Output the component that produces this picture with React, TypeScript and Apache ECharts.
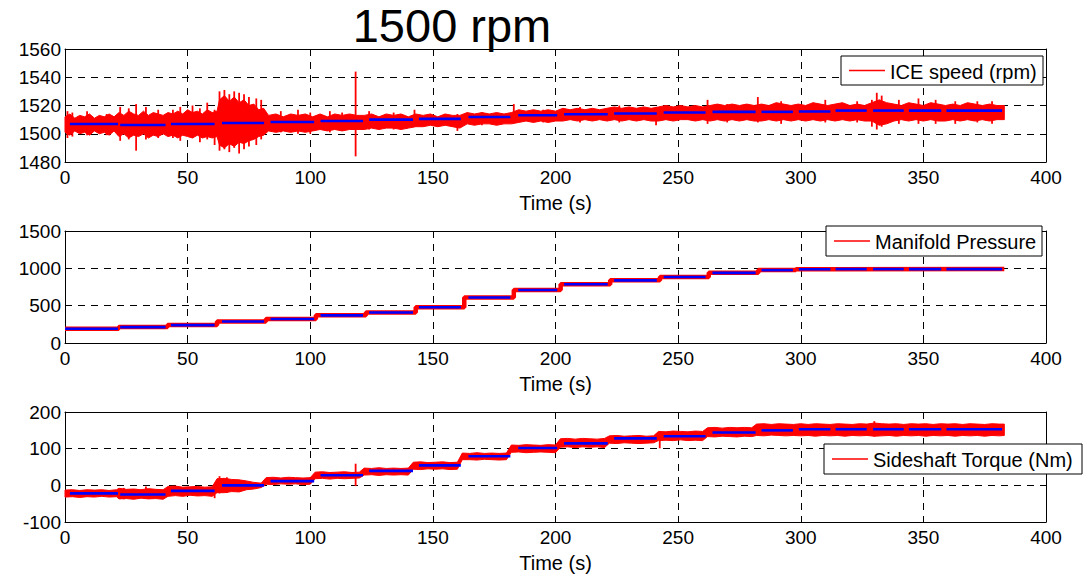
import React, { useEffect, useRef } from "react";
import * as echarts from "echarts";

// ---------- data ----------
const titleText = "1500 rpm";
const xLabel = "Time (s)";
const legendNames = ["ICE speed (rpm)", "Manifold Pressure", "Sideshaft Torque (Nm)"];

// setpoint step segments (s)
const stepStarts = [2, 22.5, 43.2, 64, 83.8, 104.2, 124, 144.3, 164.5, 184.8, 203.5, 223.9, 244.1, 264, 284, 299.2, 314.2, 329.5, 344.1, 359.4];
const stepEnds = [21.6, 41, 61, 81.2, 101.6, 121.5, 141.9, 161.4, 181.6, 200.7, 221.3, 241.3, 261.2, 281.6, 296.8, 312.1, 326.9, 342, 357.3, 382.1];
const speedSet = [1506.9, 1506.2, 1506.9, 1507.6, 1508.3, 1509, 1510, 1510.5, 1511.9, 1513.1, 1513.8, 1514.3, 1515, 1515.5, 1515.5, 1515.8, 1516.4, 1516.4, 1516.4, 1516.4];
const pressureSet = [191, 213, 239, 287, 322, 370, 409, 478, 609, 709, 787, 839, 883, 939, 976, 987, 990, 990, 990, 990];
const torqueSet = [-22, -25, -15, 0, 11.5, 27.5, 39.5, 54.5, 79.5, 102, 114.5, 128, 134, 144, 150, 153, 153, 153, 153, 153];

// measured ICE speed: core envelope [t, low, high]
const speedBand: number[][] = [
  [0, 1501, 1512], [2, 1499, 1514], [4, 1502, 1511], [6, 1500, 1513], [8, 1501, 1512], [10, 1499, 1514], [12, 1502, 1511], [14, 1500, 1513], [16, 1501, 1512], [18, 1499, 1514], [20, 1502, 1512],
  [22, 1498, 1515], [24, 1500, 1513], [26, 1497, 1516], [28, 1499, 1514], [30, 1498, 1513], [32, 1500, 1516], [34, 1497, 1513], [36, 1499, 1515], [38, 1498, 1514], [40, 1500, 1513],
  [42, 1498, 1515], [44, 1499, 1514], [46, 1497, 1516], [48, 1499, 1514], [50, 1498, 1517], [52, 1497, 1515], [54, 1499, 1516], [56, 1497, 1514], [58, 1498, 1517], [60, 1497, 1515], [62, 1498, 1516],
  [63, 1492, 1524], [65, 1490, 1527], [67, 1493, 1523], [69, 1491, 1526], [71, 1494, 1522], [73, 1493, 1524], [75, 1495, 1520], [77, 1496, 1521], [79, 1498, 1517], [81, 1499, 1518],
  [83, 1502, 1513], [86, 1501, 1514], [89, 1502, 1512], [92, 1501, 1514], [95, 1502, 1513], [98, 1501, 1514], [101, 1502, 1512],
  [104, 1503, 1514], [107, 1502, 1512], [110, 1503, 1514], [113, 1502, 1513], [116, 1503, 1514], [119, 1503, 1513], [122, 1503, 1513],
  [125, 1504, 1514], [128, 1503, 1512], [131, 1504, 1514], [134, 1504, 1513], [137, 1503, 1514], [140, 1504, 1512], [143, 1505, 1514],
  [146, 1505, 1513], [149, 1506, 1514], [152, 1505, 1512], [155, 1506, 1514], [158, 1505, 1513], [161, 1504, 1513],
  [164, 1507, 1515], [167, 1506, 1514], [170, 1507, 1515], [173, 1507, 1514], [176, 1506, 1515], [179, 1507, 1514], [182, 1507, 1515],
  [185, 1508, 1517], [188, 1509, 1516], [191, 1508, 1517], [194, 1509, 1516], [197, 1508, 1517], [200, 1509, 1516], [203, 1509, 1518],
  [206, 1510, 1517], [209, 1509, 1518], [212, 1510, 1517], [215, 1509, 1518], [218, 1510, 1517], [221, 1509, 1518],
  [224, 1510, 1519], [227, 1509, 1518], [230, 1510, 1519], [233, 1509, 1518], [236, 1510, 1519], [239, 1509, 1518], [242, 1509, 1519],
  [245, 1510, 1520], [248, 1509, 1519], [251, 1510, 1520], [254, 1510, 1519], [257, 1509, 1520], [260, 1510, 1519], [263, 1509, 1520],
  [266, 1510, 1521], [269, 1509, 1520], [272, 1510, 1521], [275, 1509, 1520], [278, 1510, 1521], [281, 1509, 1520],
  [284, 1509, 1521], [287, 1510, 1520], [290, 1509, 1522], [293, 1510, 1521], [296, 1509, 1520], [299, 1510, 1521], [302, 1509, 1520],
  [305, 1510, 1522], [308, 1509, 1521], [311, 1510, 1520], [314, 1509, 1521], [317, 1510, 1522], [320, 1509, 1520], [323, 1510, 1521], [326, 1509, 1520], [329, 1509, 1522],
  [332, 1506, 1524], [335, 1507, 1522], [338, 1509, 1521], [341, 1510, 1520], [344, 1509, 1522], [347, 1510, 1521], [350, 1509, 1520], [353, 1510, 1522], [356, 1509, 1521],
  [359, 1509, 1520], [362, 1510, 1521], [365, 1509, 1520], [368, 1510, 1522], [371, 1509, 1521], [374, 1510, 1520], [377, 1509, 1521], [380, 1510, 1520], [383, 1510, 1520],
];
// ICE speed spikes [t, low, high]
const speedSpikes: number[][] = [
  [1, 1497, 1516], [3, 1498, 1515], [9, 1499, 1516], [17, 1499, 1514], [22.5, 1495, 1519], [26, 1496, 1518], [29, 1488, 1521], [33, 1496, 1519], [38, 1497, 1517],
  [44, 1497, 1517], [47, 1495, 1519], [52, 1497, 1520], [55, 1494, 1518], [58, 1496, 1522], [61, 1492, 1517],
  [63, 1488, 1530], [65, 1489, 1531], [67, 1487, 1528], [69, 1490, 1530], [71, 1486, 1529], [73, 1489, 1528], [75, 1491, 1526], [78, 1492, 1525], [80, 1496, 1524],
  [88, 1501, 1516], [95, 1500, 1517], [100, 1500, 1515], [108, 1501, 1516], [113, 1502, 1515], [118.5, 1484, 1544], [124, 1503, 1516], [134, 1503, 1515],
  [142.5, 1505, 1517], [160, 1502, 1514], [170, 1506, 1515], [183, 1508, 1521], [195, 1508, 1517], [210, 1508, 1519], [226, 1508, 1520], [241, 1506, 1519],
  [262, 1507, 1524], [270, 1508, 1521], [282.5, 1508, 1526], [292, 1507, 1523], [310, 1508, 1524], [323, 1508, 1523], [329, 1505, 1524],
  [331, 1503, 1529], [333, 1505, 1527], [340, 1507, 1524], [348, 1507, 1525], [355, 1507, 1524], [363, 1507, 1523], [372, 1508, 1523], [378, 1507, 1523],
];

// measured manifold pressure: level start times and levels
const pressureT = [0, 21.9, 41.8, 62, 81.9, 102.3, 122.7, 143, 162.8, 183, 202.1, 222.3, 242.6, 262.5, 282.7, 298, 313, 383];
const pressureV = [192, 213, 240, 288, 323, 371, 410, 478, 610, 710, 788, 840, 884, 940, 978, 988, 992, 992];

// measured sideshaft torque: core envelope [t, low, high]
const torqueBand: number[][] = [
  [0, -32, -13], [3, -31, -12], [6, -33, -14], [9, -31, -12], [12, -32, -13], [15, -30, -12], [18, -32, -14], [21, -31, -12],
  [22, -37, -8], [25, -36, -11], [28, -38, -10], [31, -35, -12], [34, -37, -9], [37, -36, -11], [40, -38, -12],
  [42, -30, -3], [45, -28, -2], [48, -30, -5], [51, -27, -4], [54, -29, -3], [57, -28, -5], [60, -30, -4],
  [62, -20, 18], [65, -20, 19], [68, -17, 16], [71, -18, 15], [74, -12, 12], [77, -10, 8], [80, -6, 6],
  [82, 3, 21], [85, 2, 22], [88, 4, 20], [91, 3, 22], [94, 4, 21], [97, 2, 20], [100, 3, 21],
  [102, 18, 36], [105, 19, 37], [108, 17, 35], [111, 19, 36], [114, 18, 37], [117, 19, 35], [120, 20, 36],
  [122, 28, 47], [125, 29, 46], [128, 27, 48], [131, 29, 46], [134, 28, 47], [137, 29, 46], [140, 28, 47],
  [142, 44, 63], [145, 43, 64], [148, 45, 62], [151, 44, 63], [154, 45, 64], [157, 43, 62], [160, 44, 63],
  [162, 70, 88], [165, 70, 87], [168, 69, 89], [171, 71, 87], [174, 70, 88], [177, 69, 87], [180, 70, 88],
  [182, 90, 110], [185, 91, 109], [188, 89, 111], [191, 90, 110], [194, 91, 109], [197, 90, 111], [200, 89, 110],
  [202, 104, 127], [205, 105, 128], [208, 103, 126], [211, 105, 128], [214, 104, 127], [217, 105, 126], [220, 103, 128],
  [222, 115, 135], [225, 114, 136], [228, 116, 134], [231, 115, 135], [234, 114, 136], [237, 115, 134], [240, 116, 135],
  [242, 122, 147], [245, 123, 146], [248, 122, 148], [251, 124, 147], [254, 122, 146], [257, 123, 148], [260, 122, 147],
  [262, 133, 157], [265, 132, 158], [268, 134, 156], [271, 133, 158], [274, 132, 157], [277, 134, 158], [280, 133, 157],
  [282, 136, 167], [285, 135, 168], [288, 137, 166], [291, 136, 168], [294, 135, 167], [297, 136, 166], [300, 135, 168],
  [303, 136, 166], [306, 134, 168], [309, 136, 167], [312, 135, 166], [315, 136, 168], [318, 134, 167], [321, 136, 166],
  [324, 135, 168], [327, 136, 167], [330, 134, 170], [333, 135, 168], [336, 136, 167], [339, 134, 168], [342, 136, 166],
  [345, 135, 168], [348, 136, 167], [351, 134, 168], [354, 136, 166], [357, 135, 168], [360, 136, 167], [363, 134, 168],
  [366, 136, 166], [369, 135, 168], [372, 136, 167], [375, 134, 166], [378, 136, 168], [381, 135, 167], [383, 136, 167],
];
const torqueSpikes: number[][] = [
  [24, -38, -7], [33, -35, -3], [61, -35, -5], [63, -22, 25], [66, -21, 22], [118.5, -2, 59], [242.5, 101, 140], [330, 133, 175],
];

// axis ranges / ticks
const xMin = 0, xMax = 400, xStep = 50;
const speedAxis = [1480, 1560, 20];
const pressureAxis = [0, 1500, 500];
const torqueAxis = [-100, 200, 100];

// ---------- styling ----------
const FONT = '"Liberation Sans", Arial, Helvetica, sans-serif';
const RED = "#ff0000";
const BLUE = "#0000ff";
const GRIDS = [
  { left: 65, top: 49, width: 981, height: 113 },
  { left: 65, top: 231, width: 981, height: 112 },
  { left: 65, top: 412, width: 981, height: 112 },
];

const plain = (v: number) => String(v);

function axesFor(gi: number, yr: number[]) {
  const axisLine = { show: true, onZero: false, lineStyle: { color: "#000", width: 1 } };
  const tick = { show: true, inside: true, length: 5, lineStyle: { color: "#000", width: 1 } };
  const split = { show: true, lineStyle: { color: "#000", width: 1, type: [7, 6] } };
  return {
    x: [
      {
        type: "value", gridIndex: gi, min: xMin, max: xMax, interval: xStep, position: "bottom",
        axisLine, axisTick: tick, splitLine: split,
        axisLabel: { color: "#000", fontSize: 19, fontFamily: FONT, margin: 6, hideOverlap: false, formatter: plain },
        name: xLabel, nameLocation: "middle", nameGap: 31,
        nameTextStyle: { color: "#000", fontSize: 20, fontFamily: FONT },
      },
      {
        type: "value", gridIndex: gi, min: xMin, max: xMax, interval: xStep, position: "top",
        axisLine, axisTick: tick, splitLine: { show: false }, axisLabel: { show: false },
      },
    ],
    y: [
      {
        type: "value", gridIndex: gi, min: yr[0], max: yr[1], interval: yr[2], position: "left",
        axisLine, axisTick: tick, splitLine: split,
        axisLabel: { color: "#000", fontSize: 19, fontFamily: FONT, margin: 4, hideOverlap: false, formatter: plain },
      },
      {
        type: "value", gridIndex: gi, min: yr[0], max: yr[1], interval: yr[2], position: "right",
        axisLine, axisTick: tick, splitLine: { show: false }, axisLabel: { show: false },
      },
    ],
  };
}

function bandSeries(ai: number, band: number[][]) {
  return {
    type: "custom", xAxisIndex: ai, yAxisIndex: ai, silent: true, z: 2,
    data: [[band[0][0], band[0][1]]],
    renderItem: (_p: any, api: any) => {
      const up = band.map((d) => api.coord([d[0], d[2]]));
      const dn = band.slice().reverse().map((d) => api.coord([d[0], d[1]]));
      return { type: "polygon", shape: { points: up.concat(dn) }, style: { fill: RED, stroke: RED, lineWidth: 1 } };
    },
  };
}

function spikeSeries(ai: number, spikes: number[][]) {
  return {
    type: "custom", xAxisIndex: ai, yAxisIndex: ai, silent: true, z: 3,
    data: spikes, encode: { x: 0, y: [1, 2] },
    renderItem: (_p: any, api: any) => {
      const a = api.coord([api.value(0), api.value(1)]);
      const b = api.coord([api.value(0), api.value(2)]);
      return { type: "line", shape: { x1: a[0], y1: a[1], x2: b[0], y2: b[1] }, style: { stroke: RED, lineWidth: 1.8 } };
    },
  };
}

function setSeries(ai: number, values: number[]) {
  const data = values.map((v, i) => [stepStarts[i], stepEnds[i], v]);
  return {
    type: "custom", xAxisIndex: ai, yAxisIndex: ai, silent: true, z: 5,
    data, encode: { x: [0, 1], y: 2 },
    renderItem: (_p: any, api: any) => {
      const a = api.coord([api.value(0), api.value(2)]);
      const b = api.coord([api.value(1), api.value(2)]);
      return { type: "line", shape: { x1: a[0], y1: a[1], x2: b[0], y2: b[1] }, style: { stroke: BLUE, lineWidth: 2.6 } };
    },
  };
}

function legendBox(x: number, y: number, w: number, h: number, label: string) {
  return {
    type: "group", z: 100,
    children: [
      { type: "rect", shape: { x, y, width: w, height: h }, style: { fill: "#fff", stroke: "#000", lineWidth: 1 }, z: 100 },
      { type: "line", shape: { x1: x + 8, y1: y + h / 2, x2: x + 44, y2: y + h / 2 }, style: { stroke: RED, lineWidth: 1.6 }, z: 101 },
      {
        type: "text", x: x + 49, y: y + h / 2 + 1, z: 101,
        style: { text: label, fill: "#000", font: `20px ${FONT}`, align: "left", verticalAlign: "middle", textAlign: "left", textVerticalAlign: "middle" },
      },
    ],
  };
}

export default function App() {
  const ref = useRef<HTMLDivElement>(null);
  useEffect(() => {
    if (!ref.current) return;
    const chart = echarts.init(ref.current, undefined, { renderer: "svg" });
    const a0 = axesFor(0, speedAxis);
    const a1 = axesFor(1, pressureAxis);
    const a2 = axesFor(2, torqueAxis);
    const xAxis = [a0.x[0], a1.x[0], a2.x[0], a0.x[1], a1.x[1], a2.x[1]];
    const yAxis = [a0.y[0], a1.y[0], a2.y[0], a0.y[1], a1.y[1], a2.y[1]];
    const pressureData = pressureT.map((t, i) => [t, pressureV[i]]);
    chart.setOption({
      animation: false,
      backgroundColor: "#fff",
      grid: GRIDS.map((g) => ({ ...g, containLabel: false })),
      xAxis,
      yAxis,
      series: [
        bandSeries(0, speedBand),
        spikeSeries(0, speedSpikes),
        setSeries(0, speedSet),
        {
          type: "line", xAxisIndex: 1, yAxisIndex: 1, data: pressureData, step: "end",
          showSymbol: false, silent: true, z: 2, lineStyle: { color: RED, width: 4.5 },
        },
        {
          ...setSeries(1, pressureSet),
          data: pressureSet.map((v, i) => [i === 0 ? 0 : stepStarts[i], stepEnds[i], v]),
        },
        bandSeries(2, torqueBand),
        spikeSeries(2, torqueSpikes),
        setSeries(2, torqueSet),
      ],
      graphic: [
        {
          type: "text", x: 452, y: 2, z: 100,
          style: { text: titleText, fill: "#000", font: `47px ${FONT}`, align: "center", verticalAlign: "top", textAlign: "center", textVerticalAlign: "top" },
        },
        legendBox(841, 56, 202, 29, legendNames[0]),
        legendBox(826, 226, 216, 30, legendNames[1]),
        legendBox(824, 444, 258, 30, legendNames[2]),
      ],
    });
    return () => chart.dispose();
  }, []);
  return <div ref={ref} style={{ position: "fixed", left: 0, top: 0, width: 1090, height: 574, background: "#fff" }} />;
}
